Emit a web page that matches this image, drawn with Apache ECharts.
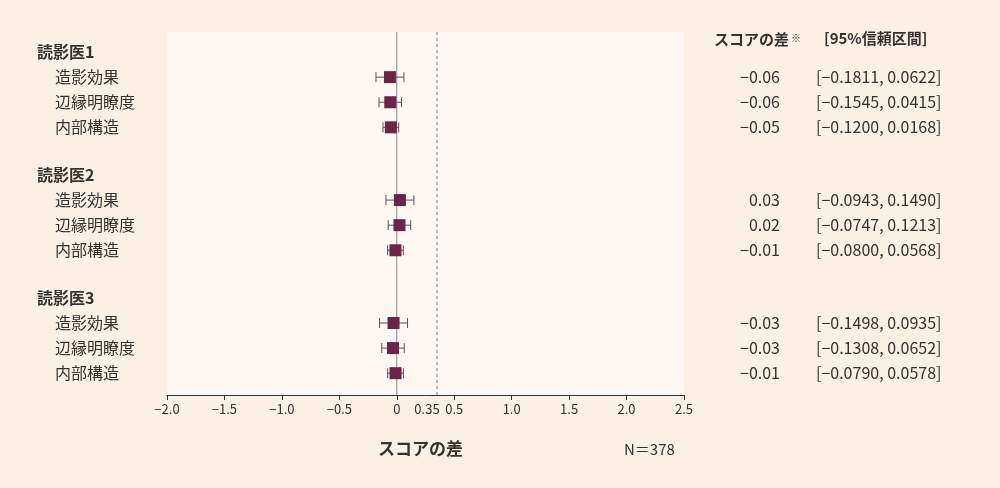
<!DOCTYPE html><html><head><meta charset="utf-8">
<script src="https://cdn.jsdelivr.net/npm/echarts@6/dist/echarts.min.js"></script>
<style>html,body{margin:0;background:#fcefe3}#c{width:1000px;height:488px}</style></head><body><div id="c"></div>
<script>
const rowLabels=['読影医1','造影効果','辺縁明瞭度','内部構造','読影医2','造影効果','辺縁明瞭度','内部構造','読影医3','造影効果','辺縁明瞭度','内部構造'];
const rowPos=[0,1,2,3,4.9,5.9,6.9,7.9,9.8,10.8,11.8,12.8];
const isHeader=[1,0,0,0,1,0,0,0,1,0,0,0];
const est=[null,-0.0595,-0.0565,-0.0516,null,0.0274,0.0233,-0.0116,null,-0.0282,-0.0328,-0.0106];
const lo=[null,-0.1811,-0.1545,-0.1200,null,-0.0943,-0.0747,-0.0800,null,-0.1498,-0.1308,-0.0790];
const hi=[null,0.0622,0.0415,0.0168,null,0.1490,0.1213,0.0568,null,0.0935,0.0652,0.0578];
const diffText=['','−0.06','−0.06','−0.05','','0.03','0.02','−0.01','','−0.03','−0.03','−0.01'];
const refLine=0.35;
const F='"Noto Sans CJK JP"';
const fmt=v=>v<0?'−'+Math.abs(v).toFixed(1):(v===0?'0':v.toFixed(1));
const ciText=i=>lo[i]==null?'':'[−'+Math.abs(lo[i]).toFixed(4)+', '+hi[i].toFixed(4)+']';
const rows=rowLabels.map((l,i)=>[i,rowPos[i]]);
const ch=echarts.init(document.getElementById('c'));
ch.setOption({
 backgroundColor:'#fcefe3',animation:false,
 grid:{left:167,right:316,top:32,bottom:93,show:true,backgroundColor:'#fef8f5',borderWidth:0},
 xAxis:{type:'value',min:-2,max:2.5,interval:0.5,splitLine:{show:false},
  axisLine:{onZero:false,lineStyle:{color:'#333'}},axisTick:{length:5,lineStyle:{color:'#333'}},
  axisLabel:{color:'#333',fontFamily:F,fontSize:13,formatter:v=>fmt(v)}},
 yAxis:{type:'value',inverse:true,min:-0.8,max:13.67,show:false},
 graphic:[
  {type:'text',left:378,top:440,style:{text:'スコアの差',font:'bold 17px '+F,fill:'#333'}},
  {type:'text',left:624,top:442,style:{text:'N＝378',font:'15px '+F,fill:'#333'}},
  {type:'text',left:714,top:32,style:{text:'スコアの差',font:'bold 15px '+F,fill:'#333'}},
  {type:'text',left:791,top:33,style:{text:'※',font:'10px '+F,fill:'#333'}},
  {type:'text',left:824,top:31,style:{text:'[95%信頼区間]',font:'bold 15px '+F,fill:'#333'}}
 ],
 series:[
  {type:'custom',silent:true,data:[[0]],renderItem:(p,api)=>{
    const a=api.coord([0,-0.8]),b=api.coord([0,13.67]),c=api.coord([refLine,-0.8]),d=api.coord([refLine,13.67]);
    return {type:'group',children:[
     {type:'line',shape:{x1:a[0],y1:a[1],x2:b[0],y2:b[1]},style:{stroke:'#888',lineWidth:1}},
     {type:'line',shape:{x1:c[0],y1:c[1],x2:d[0],y2:d[1]},style:{stroke:'#777',lineWidth:1,lineDash:[3,3]}},
     {type:'text',x:c[0]-10,y:d[1]+8,style:{text:String(refLine),font:'13px '+F,fill:'#333',align:'center',verticalAlign:'top'}}]};}},
  {type:'custom',silent:true,data:rows,renderItem:(p,api)=>{
    const i=api.value(0),y=api.value(1);const ch=[];
    const yy=api.coord([0,y])[1];
    ch.push({type:'text',x:isHeader[i]?37:55,y:yy,style:{text:rowLabels[i],font:(isHeader[i]?'bold 16px ':'16px ')+F,fill:'#333',verticalAlign:'middle'}});
    if(est[i]!=null){
     const l=api.coord([lo[i],y]),h=api.coord([hi[i],y]),e=api.coord([est[i],y]);
     ch.push({type:'line',shape:{x1:l[0],y1:yy,x2:h[0],y2:yy},style:{stroke:'#555',lineWidth:1}});
     ch.push({type:'line',shape:{x1:l[0],y1:yy-5,x2:l[0],y2:yy+5},style:{stroke:'#555',lineWidth:1}});
     ch.push({type:'line',shape:{x1:h[0],y1:yy-5,x2:h[0],y2:yy+5},style:{stroke:'#555',lineWidth:1}});
     ch.push({type:'rect',shape:{x:e[0]-6,y:yy-6,width:12,height:12},style:{fill:'#6b2346'}});
     ch.push({type:'text',x:780,y:yy,style:{text:diffText[i],font:'16px '+F,fill:'#333',align:'right',verticalAlign:'middle'}});
     ch.push({type:'text',x:816,y:yy,style:{text:ciText(i),font:'16px '+F,fill:'#333',verticalAlign:'middle'}});
    }
    return {type:'group',children:ch};}}
 ]});
</script></body></html>
